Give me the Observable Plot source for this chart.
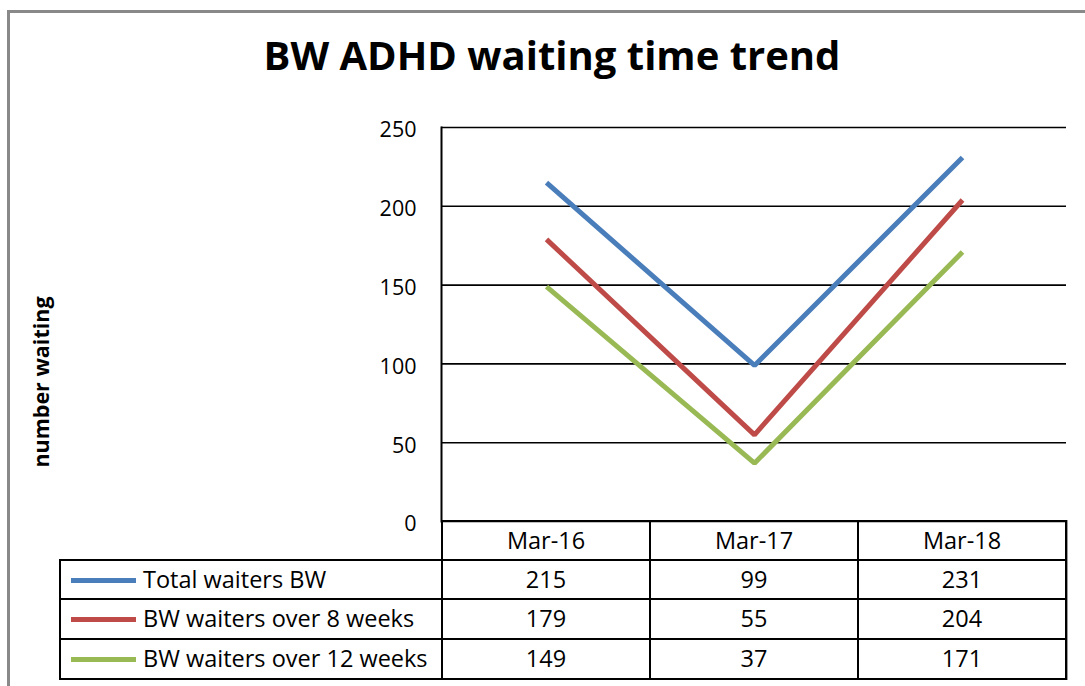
<!DOCTYPE html>
<html>
<head>
<meta charset="utf-8">
<script src="https://cdn.jsdelivr.net/npm/d3@7"></script>
<script src="https://cdn.jsdelivr.net/npm/@observablehq/plot@0.6"></script>
<style>
  html, body { margin: 0; padding: 0; background: #fff; }
  #wrap { position: relative; width: 1085px; height: 686px; overflow: hidden; background: #fff; font-family: "Open Sans", "Liberation Sans", sans-serif; }
  #frameBox { position: absolute; left: 7px; top: 10px; width: 1200px; height: 800px; border-top: 3px solid #898989; border-left: 3px solid #898989; }
  #title { position: absolute; left: 0; width: 1104px; top: 31px; text-align: center; font-weight: 700; font-size: 40px; color: #000; line-height: 48px; }
  #ylabel { position: absolute; left: 40px; top: 382px; transform: translate(-50%, -50%) rotate(-90deg); font-weight: 700; font-size: 21.5px; white-space: nowrap; color: #000; }
  #plot { position: absolute; left: 0; top: 0; }
  #tbl { position: absolute; border-collapse: collapse; font-size: 23.5px; color: #000; table-layout: fixed; }
  #tbl td { border: 2px solid #000; padding: 0; text-align: center; box-sizing: border-box; white-space: nowrap; line-height: 1; }
  #tbl td.blank { border-top: none; border-left: none; }
  #tbl td.lab { text-align: left; padding-left: 10px; }
  .sw { display: inline-block; width: 65px; height: 5px; vertical-align: middle; margin-right: 7px; position: relative; top: -1px; }
  #shadow { position: absolute; width: 1px; background: #9a9a9a; }
</style>
</head>
<body>
<div id="wrap">
  <div id="frameBox"></div>
  <div id="title"></div>
  <div id="ylabel"></div>
</div>
<script>
const titleText = "BW ADHD waiting time trend";
const yLabel = "number waiting";
const months = ["Mar-16", "Mar-17", "Mar-18"];
const seriesNames = ["Total waiters BW", "BW waiters over 8 weeks", "BW waiters over 12 weeks"];
const totalWaiters = [215, 99, 231];
const over8Weeks = [179, 55, 204];
const over12Weeks = [149, 37, 171];
const seriesColors = ["#4A7EBB", "#BE4B48", "#98B954"];
const yTicks = [0, 50, 100, 150, 200, 250];

const seriesValues = [totalWaiters, over8Weeks, over12Weeks];
const data = [];
seriesNames.forEach((s, i) => months.forEach((m, j) => data.push({series: s, month: m, value: seriesValues[i][j]})));

document.getElementById("title").textContent = titleText;
document.getElementById("ylabel").textContent = yLabel;

const W = 1085, H = 686;
const mL = 441, mR = 19, mT = 127, mB = 165;

const chart = Plot.plot({
  width: W,
  height: H,
  marginLeft: mL,
  marginRight: mR,
  marginTop: mT,
  marginBottom: mB,
  style: {background: "transparent", fontFamily: "'Open Sans', 'Liberation Sans', sans-serif", overflow: "visible"},
  x: {type: "point", domain: months, padding: 0.5, axis: null},
  y: {domain: [0, 250], nice: false, axis: null},
  color: {domain: seriesNames, range: seriesColors},
  marks: [
    Plot.ruleY(yTicks, {stroke: "#000", strokeWidth: 1.6}),
    Plot.frame({anchor: "left", stroke: "#000", strokeWidth: 2}),
    Plot.axisY({ticks: yTicks, tickSize: 0, tickPadding: 25, fontSize: 21.5, dy: 3, tickFormat: d => String(d), label: null}),
    Plot.line(data, {x: "month", y: "value", z: "series", stroke: "series", strokeWidth: 5, strokeLinejoin: "miter", strokeLinecap: "butt"})
  ]
});
chart.id = "plot";
document.getElementById("wrap").appendChild(chart);

// Data table aligned to the chart's x scale
const xs = chart.scale("x");
const yS = chart.scale("y");
const step = xs.step;
const bounds = months.map(m => xs.apply(m) - step / 2);
const tableLeft = 60;
const tableTop = yS.apply(0);
const tbl = document.createElement("table");
tbl.id = "tbl";
tbl.style.left = (tableLeft - 1) + "px";
tbl.style.top = (tableTop - 1) + "px";
const colgroup = document.createElement("colgroup");
const c0 = document.createElement("col"); c0.style.width = (bounds[0] - tableLeft) + "px"; colgroup.appendChild(c0);
months.forEach(() => { const c = document.createElement("col"); c.style.width = step + "px"; colgroup.appendChild(c); });
tbl.appendChild(colgroup);
const rowH = [39, 39, 40, 40];
const hr = tbl.insertRow();
hr.style.height = rowH[0] + "px";
const b = hr.insertCell(); b.className = "blank";
months.forEach(m => { const c = hr.insertCell(); c.textContent = m; });
seriesNames.forEach((s, i) => {
  const r = tbl.insertRow();
  r.style.height = rowH[i + 1] + "px";
  const lc = r.insertCell(); lc.className = "lab";
  const sw = document.createElement("span"); sw.className = "sw"; sw.style.background = seriesColors[i];
  lc.appendChild(sw);
  lc.appendChild(document.createTextNode(s));
  seriesValues[i].forEach(v => { const c = r.insertCell(); c.textContent = v; });
});
document.getElementById("wrap").appendChild(tbl);

const tr = tbl.getBoundingClientRect();
const wr = document.getElementById("wrap").getBoundingClientRect();
const sh = document.createElement("div");
sh.id = "shadow";
sh.style.left = (tr.right - wr.left) + "px";
sh.style.top = (tr.top - wr.top) + "px";
sh.style.height = tr.height + "px";
document.getElementById("wrap").appendChild(sh);
</script>
</body>
</html>
